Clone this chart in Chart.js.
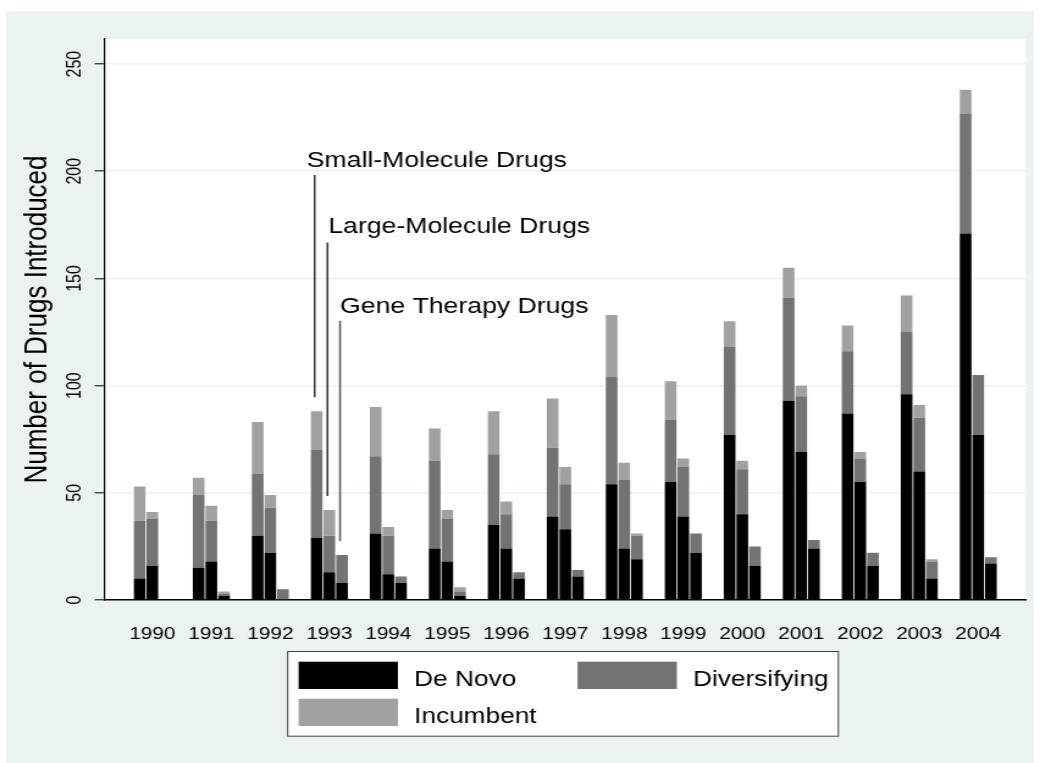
<!DOCTYPE html>
<html>
<head>
<meta charset="utf-8">
<title>Drugs Introduced</title>
<script src="https://cdn.jsdelivr.net/npm/chart.js@4.4.1/dist/chart.umd.min.js"></script>
<style>
    html, body { margin: 0; padding: 0; background: #ffffff; }
    #wrap { position: relative; width: 1040px; height: 763px; overflow: hidden; }
    /* 原圖是被橫向拉伸過的 Stata 圖，這裡用 CSS 重現那個比例 */
    #chartCanvas { display: block; transform: scaleX(1.2207); transform-origin: 0 0; }
</style>
</head>
<body>
<div id="wrap"><canvas id="chartCanvas" width="852" height="763"></canvas></div>
<script>
// 年份（類別）
const years = [1990, 1991, 1992, 1993, 1994, 1995, 1996, 1997, 1998, 1999, 2000, 2001, 2002, 2003, 2004];

// 小分子藥物
const smallDeNovo       = [10, 15, 30, 29, 31, 24, 35, 39, 54, 55, 77, 93, 87, 96, 171];
const smallDiversifying = [27, 34, 29, 41, 36, 41, 33, 32, 50, 29, 41, 48, 29, 29, 56];
const smallIncumbent    = [16,  8, 24, 18, 23, 15, 20, 23, 29, 18, 12, 14, 12, 17, 11];

// 大分子藥物
const largeDeNovo       = [16, 18, 22, 13, 12, 18, 24, 33, 24, 39, 40, 69, 55, 60, 77];
const largeDiversifying = [22, 19, 21, 17, 18, 20, 16, 21, 32, 23, 21, 26, 11, 25, 28];
const largeIncumbent    = [ 3,  7,  6, 12,  4,  4,  6,  8,  8,  4,  4,  5,  3,  6,  0];

// 基因治療藥物
const geneDeNovo        = [0, 2, 0,  8, 8, 2, 10, 11, 19, 22, 16, 24, 16, 10, 17];
const geneDiversifying  = [0, 1, 5, 13, 3, 2,  3,  3, 11,  9,  9,  4,  6,  8,  3];
const geneIncumbent     = [0, 1, 0,  0, 0, 2,  0,  0,  1,  0,  0,  0,  0,  1,  0];

// 刻度
const yTicks = [0, 50, 100, 150, 200, 250];

// 顏色
const colors = {
    deNovo: '#000000',
    diversifying: '#737373',
    incumbent: '#a1a1a1'
};

const FONT = "'Liberation Sans', Arial, Helvetica, sans-serif";
const BG = '#eaf2f3';

function series(values) {
    return years.map((yr, i) => ({ x: yr, y: values[i] }));
}

function makeDatasets(stack, deNovo, diversifying, incumbent) {
    return [
        { label: 'De Novo', stack: stack, data: series(deNovo), backgroundColor: colors.deNovo },
        { label: 'Diversifying', stack: stack, data: series(diversifying), backgroundColor: colors.diversifying },
        { label: 'Incumbent', stack: stack, data: series(incumbent), backgroundColor: colors.incumbent }
    ];
}

const datasets = [
    ...makeDatasets('small', smallDeNovo, smallDiversifying, smallIncumbent),
    ...makeDatasets('large', largeDeNovo, largeDiversifying, largeIncumbent),
    ...makeDatasets('gene', geneDeNovo, geneDiversifying, geneIncumbent)
];

// 1993 年的標註
const annotations = [
    { text: 'Small-Molecule Drugs', stack: 'small', year: 1993, textValue: 202, lineTopValue: 198.3, dx: -6.5, color: '#000000', width: 1.2 },
    { text: 'Large-Molecule Drugs', stack: 'large', year: 1993, textValue: 171, lineTopValue: 166.8, dx: 0.8, color: '#000000', width: 1.2 },
    { text: 'Gene Therapy Drugs', stack: 'gene', year: 1993, textValue: 133.7, lineTopValue: 130.3, dx: 0, color: '#5a5a5a', width: 1.6 }
];

// 背景：外框淺色，繪圖區白色
const backgroundPlugin = {
    id: 'stataBackground',
    beforeDraw(chart) {
        const { ctx, chartArea } = chart;
        ctx.save();
        ctx.fillStyle = '#ffffff';
        ctx.fillRect(0, 0, chart.width, chart.height);
        ctx.fillStyle = BG;
        ctx.fillRect(4.9, 11, 847 - 4.9, chart.height - 11);
        ctx.fillStyle = '#ffffff';
        ctx.fillRect(chartArea.left, chartArea.top, chartArea.right - chartArea.left, chartArea.bottom - chartArea.top);
        ctx.restore();
    }
};

// 標註線與文字
const annotationPlugin = {
    id: 'drugAnnotations',
    afterDatasetsDraw(chart) {
        const { ctx } = chart;
        const yScale = chart.scales.y;
        ctx.save();
        annotations.forEach(a => {
            // 找出該堆疊最上層的柱
            const dsIndexes = chart.data.datasets
                .map((ds, i) => (ds.stack === a.stack ? i : -1))
                .filter(i => i >= 0);
            const topMeta = chart.getDatasetMeta(dsIndexes[dsIndexes.length - 1]);
            const bar = topMeta.data[years.indexOf(a.year)];
            const lineX = bar.x - 1.6;
            const lineTop = yScale.getPixelForValue(a.lineTopValue);
            const lineBottom = bar.y - 14;
            ctx.strokeStyle = a.color;
            ctx.lineWidth = a.width;
            ctx.beginPath();
            ctx.moveTo(lineX, lineTop);
            ctx.lineTo(lineX, lineBottom);
            ctx.stroke();

            ctx.fillStyle = '#000000';
            ctx.font = `21.8px ${FONT}`;
            ctx.textAlign = 'left';
            ctx.textBaseline = 'alphabetic';
            ctx.fillText(a.text, lineX + a.dx, yScale.getPixelForValue(a.textValue));
        });
        ctx.restore();
    }
};

// 圖例（Stata 風格：兩欄、加框）
const legendPlugin = {
    id: 'stataLegend',
    afterDraw(chart) {
        const { ctx } = chart;
        const items = chart.data.datasets.slice(0, 3);
        const box = { x: 235.2, y: 651, w: 452.1, h: 85.7 };
        ctx.save();
        ctx.fillStyle = '#ffffff';
        ctx.fillRect(box.x, box.y, box.w, box.h);
        ctx.strokeStyle = '#404040';
        ctx.lineWidth = 1;
        ctx.strokeRect(box.x + 0.5, box.y + 0.5, box.w - 1, box.h - 1);

        const cols = [244.6, 473.1];
        const rows = [661.7, 698.7];
        ctx.font = `21.5px ${FONT}`;
        ctx.textAlign = 'left';
        ctx.textBaseline = 'alphabetic';
        items.forEach((ds, i) => {
            const sx = cols[i % 2];
            const sy = rows[Math.floor(i / 2)];
            ctx.fillStyle = ds.backgroundColor;
            ctx.fillRect(sx, sy, 81.4, 27.3);
            ctx.fillStyle = '#000000';
            ctx.fillText(ds.label, sx + 81.4 + 13.2, sy + 24.3);
        });
        ctx.restore();
    }
};

const canvas = document.getElementById('chartCanvas');
new Chart(canvas, {
    type: 'bar',
    data: { datasets: datasets },
    plugins: [backgroundPlugin, annotationPlugin, legendPlugin],
    options: {
        responsive: false,
        animation: false,
        devicePixelRatio: 1,
        categoryPercentage: 0.644,
        barPercentage: 0.92,
        layout: { padding: { left: 0, top: 39, right: 11.7, bottom: 0 } },
        plugins: {
            legend: { display: false },
            tooltip: { enabled: false },
            title: { display: false }
        },
        scales: {
            x: {
                type: 'linear',
                stacked: true,
                offset: false,
                min: 1989.193,
                max: 2004.805,
                afterBuildTicks: axis => { axis.ticks = years.map(v => ({ value: v })); },
                afterFit: axis => { axis.height = 163; },
                grid: { display: false, offset: false },
                border: { display: true, color: '#000000', width: 1.5 },
                ticks: {
                    autoSkip: false,
                    maxRotation: 0,
                    minRotation: 0,
                    padding: 16,
                    color: '#000000',
                    font: { family: FONT, size: 17 },
                    callback: v => String(v)
                }
            },
            y: {
                stacked: true,
                min: 0,
                max: 261.7,
                afterBuildTicks: axis => { axis.ticks = yTicks.map(v => ({ value: v })); },
                afterFit: axis => { axis.width = 85.8; },
                grid: {
                    color: c => (c.tick && c.tick.value === 0 ? 'rgba(0,0,0,0)' : BG),
                    lineWidth: 1.6,
                    tickColor: '#000000',
                    tickLength: 8.2,
                    tickWidth: 1
                },
                border: { display: true, color: '#000000', width: 1.2 },
                title: {
                    display: true,
                    text: 'Number of Drugs Introduced',
                    color: '#000000',
                    font: { family: FONT, size: 26 },
                    padding: { top: 15.5, bottom: 0 }
                },
                ticks: {
                    minRotation: 90,
                    maxRotation: 90,
                    crossAlign: 'center',
                    padding: 2.5,
                    color: '#000000',
                    font: { family: FONT, size: 16 }
                }
            }
        }
    }
});
</script>
</body>
</html>
